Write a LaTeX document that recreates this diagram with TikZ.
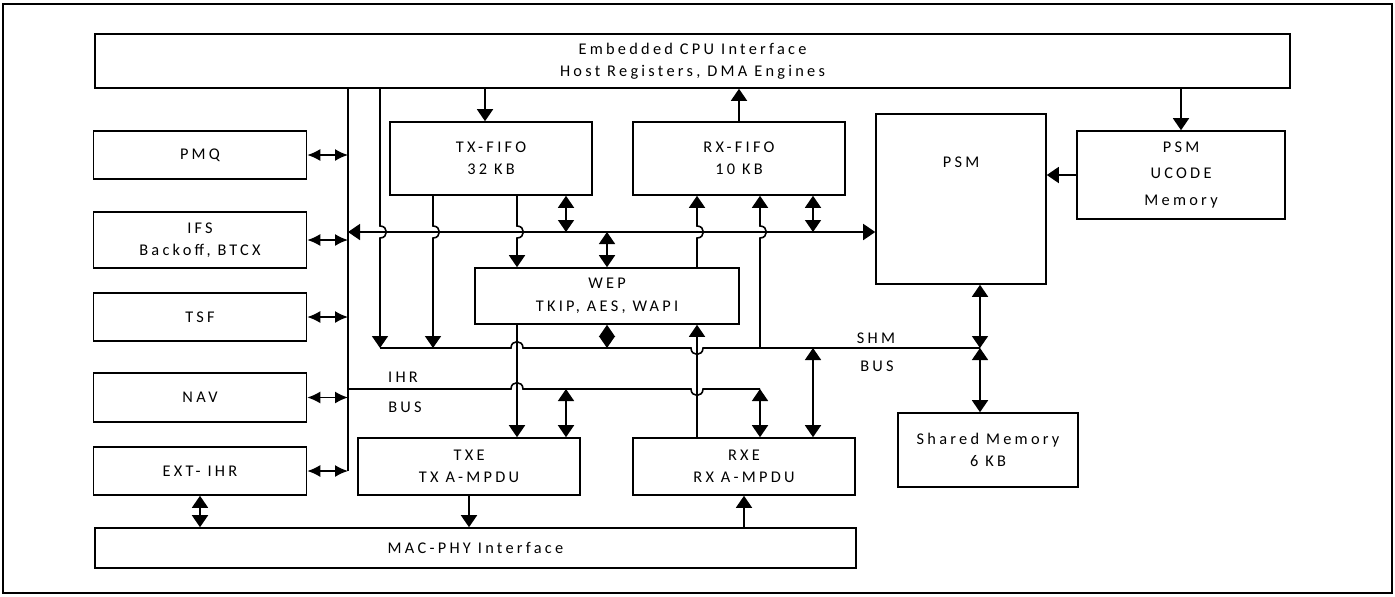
\documentclass[tikz,border=0pt]{standalone}
\usepackage{fontspec}
\setmainfont{Carlito}
\newfontfamily\lblfont[LetterSpace=20]{Carlito}
\usetikzlibrary{arrows.meta, positioning, calc}

\begin{document}
\begin{tikzpicture}[
    x=0.02cm, y=-0.02cm,
    lbl/.style={font=\lblfont\fontsize{9.3}{12.8}\selectfont},
    box/.style={rectangle, draw, line width=0.9pt, lbl, minimum width=4.26cm, minimum height=0.96cm, inner sep=0pt, align=center},
    arrow/.style={-{Triangle[length=0.24cm, width=0.32cm]}, line width=0.9pt},
    darrow/.style={{Triangle[length=0.24cm, width=0.32cm]}-{Triangle[length=0.24cm, width=0.32cm]}, line width=0.9pt},
    sarrow/.style={{Latex[length=0.26cm, width=0.24cm]}-{Latex[length=0.26cm, width=0.24cm]}, line width=0.9pt},
    bus/.style={line width=0.9pt},
    hopr/.style={to path={.. controls +(0.17cm,0) and +(0.17cm,0) .. (\tikztotarget)}},
    hopu/.style={to path={.. controls +(0,0.17cm) and +(0,0.17cm) .. (\tikztotarget)}},
    hopd/.style={to path={.. controls +(0,-0.17cm) and +(0,-0.17cm) .. (\tikztotarget)}}
]
\useasboundingbox (0,0) rectangle (1395,596);
\draw[line width=0.9pt] (3,4) rectangle (1392,593);

\node[box, minimum width=23.9cm, minimum height=1.08cm] (cpu) at (692.5,61) {Embedded CPU Interface\\Host Registers, DMA Engines};
\node[box] (pmq) at (200,155) {PMQ};
\node[box, minimum height=1.12cm] (ifs) at (200,240) {IFS\\Backoff, BTCX};
\node[box] (tsf) at (200,317) {TSF};
\node[box, minimum height=0.98cm] (nav) at (200,397.5) {NAV};
\node[box] (extihr) at (200,471) {EXT- IHR};
\node[box, minimum width=4.04cm, minimum height=1.46cm] (txfifo) at (491,158.5) {TX-FIFO\\32 KB};
\node[box, minimum width=4.24cm, minimum height=1.46cm] (rxfifo) at (739,158.5) {RX-FIFO\\10 KB};
\node[box, minimum width=3.4cm, minimum height=3.4cm, label={[lbl, anchor=center, yshift=-0.98cm]north:PSM}] (psm) at (961,199) {};
\node[box, minimum width=4.16cm, minimum height=1.76cm, font=\lblfont\fontsize{9.3}{15.2}\selectfont] (ucode) at (1181,175) {PSM\\UCODE\\Memory};
\node[box, minimum width=5.28cm, minimum height=1.12cm] (wep) at (607,296) {WEP\\TKIP, AES, WAPI};
\node[box, minimum width=4.44cm, minimum height=1.14cm] (txe) at (469,466.5) {TXE\\TX A-MPDU};
\node[box, minimum width=4.44cm, minimum height=1.14cm] (rxe) at (744,466.5) {RXE\\RX A-MPDU};
\node[box, minimum width=3.6cm, minimum height=1.48cm] (shmem) at (988,450) {Shared Memory\\6 KB};
\node[box, minimum width=15.22cm, minimum height=0.8cm] (macphy) at (475.5,548) {MAC-PHY Interface};

\node[lbl] (ihr) at (403,377) {IHR};
\node[lbl] (ihrbus) at (405,407) {BUS};
\node[lbl] (shm) at (876,338) {SHM};
\node[lbl] (shmbus) at (877,366) {BUS};

\coordinate (mb) at (0,232);
\coordinate (sb) at (0,348);
\coordinate (ib) at (0,389);
\coordinate (vb) at (348,0);
\coordinate (cv) at (380,0);
\coordinate (tq) at (433,0);
\coordinate (ti) at (485,0);
\coordinate (tw) at (517,0);
\coordinate (tm) at (566,0);
\coordinate (wm) at (607,0);
\coordinate (rw) at (697,0);
\coordinate (rs) at (760,0);
\coordinate (rm) at (813,0);
\coordinate (sj) at (980,0);

\draw[bus] (cpu.south -| vb) -- (extihr.east -| vb);
\foreach \n in {pmq, ifs, tsf, nav, extihr}
  \draw[sarrow] (\n.east) -- (\n.east -| vb);

\draw[darrow] (mb -| vb) -- (psm.west |- mb);
\draw[bus] (sb -| cv) -- ($(sb -| tw)+(-6,0)$) to[hopu] ($(sb -| tw)+(6,0)$) -- ($(sb -| rw)+(-6,0)$) to[hopd] ($(sb -| rw)+(6,0)$) -- (sb -| sj);
\draw[bus] (ib -| vb) -- ($(ib -| tw)+(-6,0)$) to[hopu] ($(ib -| tw)+(6,0)$) -- ($(ib -| rw)+(-6,0)$) to[hopd] ($(ib -| rw)+(6,0)$) -- (ib -| rs);

\draw[arrow] (cpu.south -| cv) -- ($(mb -| cv)+(0,-6)$) to[hopr] ($(mb -| cv)+(0,6)$) -- (sb -| cv);
\draw[arrow] (txfifo.south -| tq) -- ($(mb -| tq)+(0,-6)$) to[hopr] ($(mb -| tq)+(0,6)$) -- (sb -| tq);
\draw[arrow] (txfifo.south -| tw) -- ($(mb -| tw)+(0,-6)$) to[hopr] ($(mb -| tw)+(0,6)$) -- (wep.north -| tw);
\draw[arrow] (wep.south -| tw) -- (txe.north -| tw);
\draw[darrow] (txfifo.south -| tm) -- (mb -| tm);
\draw[darrow] (ib -| tm) -- (txe.north -| tm);
\draw[darrow] (mb -| wm) -- (wep.north -| wm);
\draw[darrow] (wep.south -| wm) -- (sb -| wm);
\draw[arrow] (rxe.north -| rw) -- (wep.south -| rw);
\draw[arrow] (wep.north -| rw) -- ($(mb -| rw)+(0,6)$) to[hopr] ($(mb -| rw)+(0,-6)$) -- (rxfifo.south -| rw);
\draw[arrow] (sb -| rs) -- ($(mb -| rs)+(0,6)$) to[hopr] ($(mb -| rs)+(0,-6)$) -- (rxfifo.south -| rs);
\draw[darrow] (ib -| rs) -- (rxe.north -| rs);
\draw[darrow] (rxfifo.south -| rm) -- (mb -| rm);
\draw[darrow] (sb -| rm) -- (rxe.north -| rm);
\draw[darrow] (psm.south -| sj) -- (sb -| sj);
\draw[darrow] (sb -| sj) -- (shmem.north -| sj);

\draw[arrow] (cpu.south -| ti) -- (txfifo.north -| ti);
\draw[arrow] (rxfifo.north) -- (cpu.south -| rxfifo.north);
\draw[arrow] (cpu.south -| ucode.north) -- (ucode.north);
\draw[arrow] (ucode.west) -- (psm.east |- ucode.west);

\draw[darrow] (extihr.south) -- (macphy.north -| extihr.south);
\draw[arrow] (txe.south) -- (macphy.north -| txe.south);
\draw[arrow] (macphy.north -| rxe.south) -- (rxe.south);
\end{tikzpicture}
\end{document}
